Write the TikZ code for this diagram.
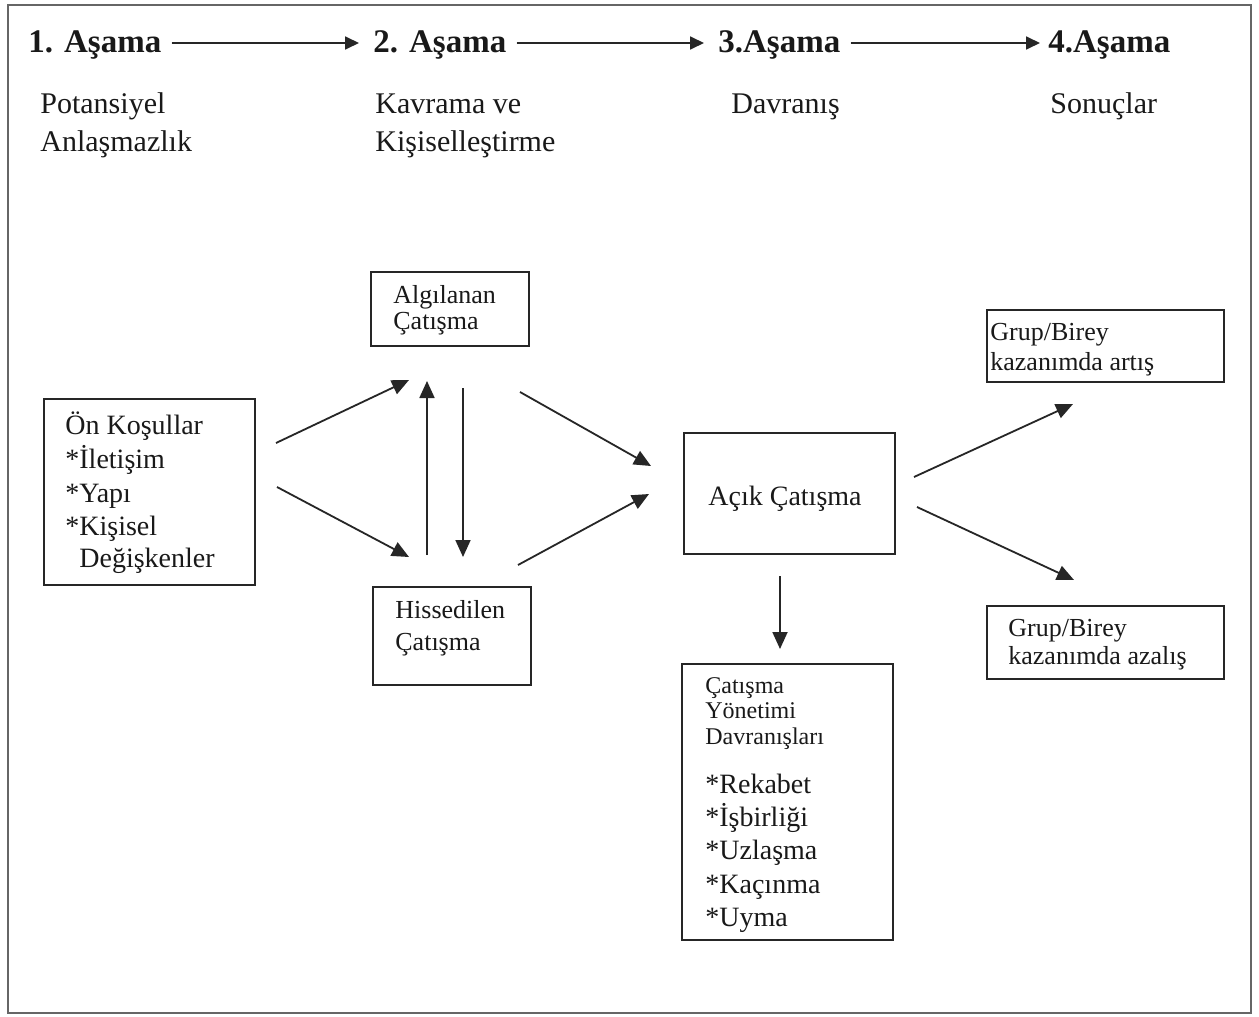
\documentclass[tikz,border=0pt]{standalone}
\usepackage{fontspec}
\setmainfont{Liberation Serif}
\usetikzlibrary{arrows.meta}
\begin{document}
\begin{tikzpicture}[x=0.5pt,y=-0.5pt,
  box/.style={draw=black!85, line width=1pt, inner sep=0pt, anchor=north west},
  lbl/.style={anchor=base west, inner sep=0pt, text=black!90},
  arr/.style={-{Triangle[length=8.5pt,width=7.5pt]}, line width=0.9pt, draw=black!85, fill=black!85},
  harr/.style={-{Triangle[length=7pt,width=6.5pt]}, line width=0.9pt, draw=black!85, fill=black!85},
  hd/.style={lbl, font=\fontsize{16.5}{20}\selectfont\bfseries},
  big/.style={lbl, font=\fontsize{15}{18}\selectfont},
  mid/.style={lbl, font=\fontsize{14}{17}\selectfont},
  sm/.style={lbl, font=\fontsize{13}{15}\selectfont},
  tiny/.style={lbl, font=\fontsize{12}{14}\selectfont}]
\useasboundingbox (0,0) rectangle (1259,1017);
\fill[white] (0,0) rectangle (1259,1017);
\draw[black!60, line width=1.4pt] (8,5) rectangle (1251,1013);

% headings
\node[hd] (h1) at (28,53) {1. Aşama};
\node[hd] (h2) at (373,53) {2. Aşama};
\node[hd] (h3) at (718,53) {3.Aşama};
\node[hd] (h4) at (1048,53) {4.Aşama};
\draw[harr] ([xshift=5pt,yshift=5pt]h1.base east) -- ([xshift=-7pt,yshift=5pt]h2.base west);
\draw[harr] ([xshift=5pt,yshift=5pt]h2.base east) -- ([xshift=-7pt,yshift=5pt]h3.base west);
\draw[harr] ([xshift=5pt,yshift=5pt]h3.base east) -- ([xshift=-4pt,yshift=5pt]h4.base west);

% stage subtitles
\node[big] (p1) at (40,113) {Potansiyel};
\node[big] (p2) at (40,151) {Anlaşmazlık};
\node[big] (k1) at (375,113) {Kavrama ve};
\node[big] (k2) at (375,151) {Kişiselleştirme};
\node[big] (d1) at (731,113) {Davranış};
\node[big] (s1) at (1050,113) {Sonuçlar};

% boxes
\node[box, minimum width=105.5pt, minimum height=93pt] (pre) at (43,398) {};
\node[box, minimum width=79pt, minimum height=37pt] (alg) at (370,271) {};
\node[box, minimum width=79pt, minimum height=49pt] (his) at (372,586) {};
\node[box, minimum width=105.5pt, minimum height=60.5pt] (acik) at (683,432) {};
\node[box, minimum width=118.5pt, minimum height=36pt] (art) at (986,309) {};
\node[box, minimum width=118.5pt, minimum height=36.5pt] (aza) at (986,605) {};
\node[box, minimum width=105.5pt, minimum height=138pt] (yon) at (681,663) {};

% box texts
\node[mid] at (65,434) {Ön Koşullar};
\node[mid] at (65,468) {*İletişim};
\node[mid] at (65,502) {*Yapı};
\node[mid] at (65,535) {*Kişisel};
\node[mid] at (79,567) {Değişkenler};

\node[sm] at (393,303) {Algılanan};
\node[sm] at (393,329) {Çatışma};

\node[sm] at (395,618) {Hissedilen};
\node[sm] at (395,650) {Çatışma};

\node[mid, anchor=base] at (785,505) {Açık Çatışma};

\node[sm] at (990,340) {Grup/Birey};
\node[sm] at (990,370) {kazanımda artış};
\node[sm] at (1008,636) {Grup/Birey};
\node[sm] at (1008,664) {kazanımda azalış};

\node[tiny] at (705,693) {Çatışma};
\node[tiny] at (705,718) {Yönetimi};
\node[tiny] at (705,744) {Davranışları};
\node[mid] at (705,793) {*Rekabet};
\node[mid] at (705,826) {*İşbirliği};
\node[mid] at (705,859) {*Uzlaşma};
\node[mid] at (705,893) {*Kaçınma};
\node[mid] at (705,926) {*Uyma};

% arrow endpoints
\coordinate (a1s) at (276,443); \coordinate (a1e) at (409,380);
\coordinate (a2s) at (277,487); \coordinate (a2e) at (409,557);
\coordinate (a3s) at (427,555); \coordinate (a3e) at (427,381);
\coordinate (a4s) at (463,388); \coordinate (a4e) at (463,557);
\coordinate (a5s) at (520,392); \coordinate (a5e) at (651,466);
\coordinate (a6s) at (518,565); \coordinate (a6e) at (649,494);
\coordinate (a7s) at (914,477); \coordinate (a7e) at (1073,404);
\coordinate (a8s) at (917,507); \coordinate (a8e) at (1074,580);
\coordinate (a9s) at (780,576); \coordinate (a9e) at (780,649);
\foreach \i in {1,...,9} {\draw[arr] (a\i s) -- (a\i e);}
\end{tikzpicture}
\end{document}
